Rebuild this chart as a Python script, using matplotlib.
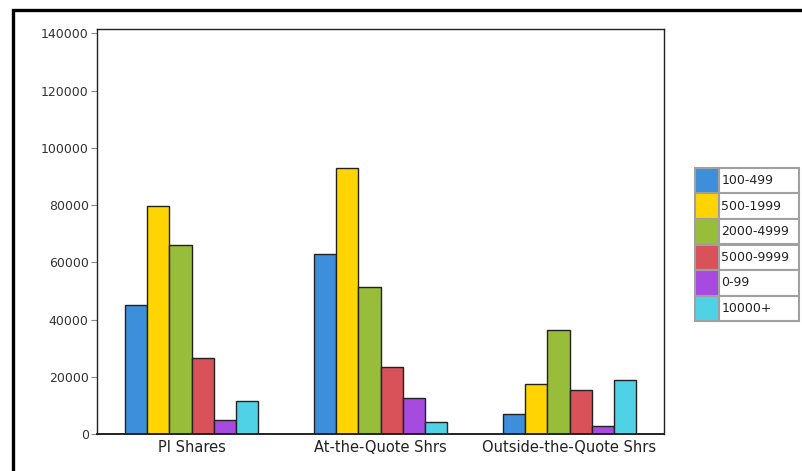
import numpy as np
import matplotlib
matplotlib.use("Agg")
import matplotlib.pyplot as plt
from matplotlib.patches import Rectangle

categories = ["PI Shares", "At-the-Quote Shrs", "Outside-the-Quote Shrs"]
series = ["100-499", "500-1999", "2000-4999", "5000-9999", "0-99", "10000+"]
colors = ["#3d8fdc", "#ffd400", "#98bd3a", "#d9525a", "#a64ae0", "#4fd2e6"]

s_100_499 = [45000, 63000, 7000]
s_500_1999 = [79500, 93000, 17300]
s_2000_4999 = [66000, 51500, 36500]
s_5000_9999 = [26500, 23500, 15500]
s_0_99 = [5000, 12500, 2800]
s_10000_plus = [11500, 4300, 19000]

values = [s_100_499, s_500_1999, s_2000_4999, s_5000_9999, s_0_99, s_10000_plus]

fig = plt.figure(figsize=(8.03, 4.71), dpi=100)
fig.patch.set_facecolor("white")

ax = fig.add_axes([97 / 803, 1 - 434 / 471, 567 / 803, 405 / 471])

x = np.arange(len(categories))
w = 0.117
for i, (name, vals) in enumerate(zip(series, values)):
    ax.bar(x + (i - 2.5) * w, vals, width=w, color=colors[i],
           edgecolor="#222222", linewidth=1.0, label=name)

ax.set_xlim(-0.5, 2.5)
ax.set_ylim(0, 141500)
ax.set_yticks(np.arange(0, 140001, 20000))
ax.set_xticks(x)
ax.set_xticklabels(categories, fontsize=10.5, color="#222222")
ax.tick_params(axis="x", length=0, pad=4)
ax.tick_params(axis="y", length=4, width=0.8, color="#888888",
               labelsize=9, labelcolor="#333333", pad=2)
for sp in ax.spines.values():
    sp.set_color("#222222")
    sp.set_linewidth(1.0)
ax.spines["bottom"].set_linewidth(1.4)

# legend drawn as a small table
lax = fig.add_axes([695 / 803, 1 - 321 / 471, 104 / 803, 153 / 471])
lax.axis("off")
cell_text = [["", s] for s in series]
cell_cols = [[c, "white"] for c in colors]
tbl = lax.table(cellText=cell_text, cellColours=cell_cols,
                colWidths=[0.23, 0.77], bbox=[0, 0, 1, 1], cellLoc="left")
tbl.auto_set_font_size(False)
for (r, c), cell in tbl.get_celld().items():
    cell.set_edgecolor("#a0a0a0")
    cell.set_linewidth(1.5)
    cell.get_text().set_fontsize(9)
    cell.get_text().set_color("#222222")
    cell.PAD = 0.03

# outer frame around the chart
fig.add_artist(Rectangle((13 / 803, -0.2), 1.2, 0.2 + (1 - 10 / 471),
                         transform=fig.transFigure, fill=False,
                         edgecolor="black", linewidth=2.4, clip_on=False))

fig.savefig("out.png", dpi=100)
